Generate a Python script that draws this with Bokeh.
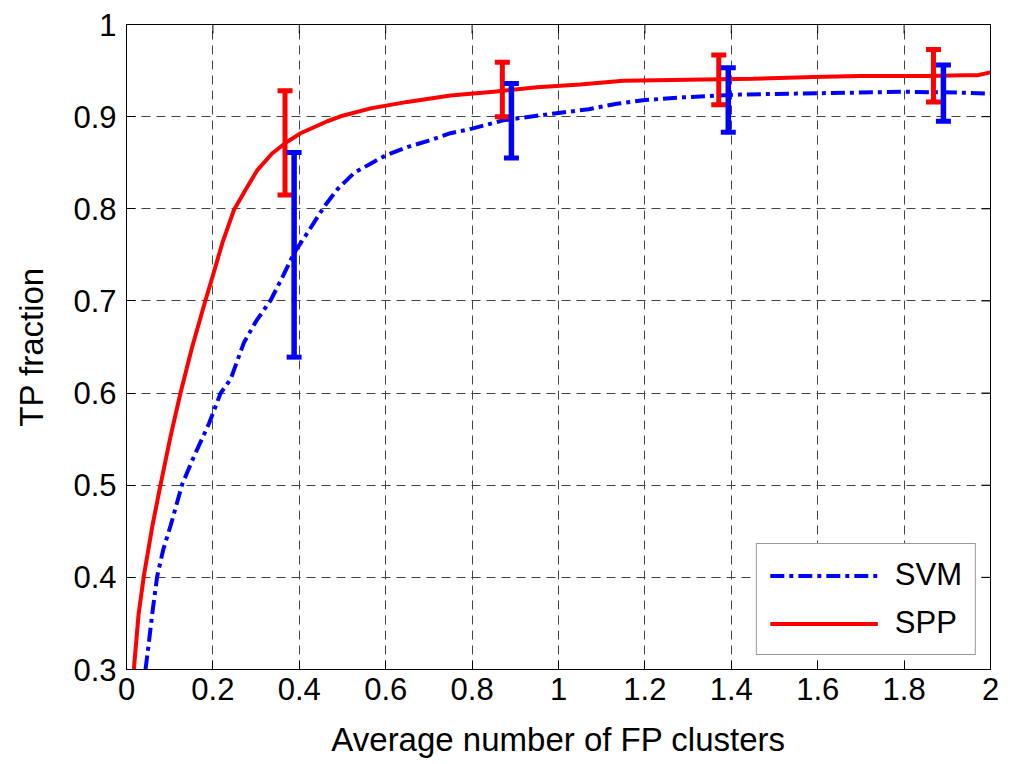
import math
from bokeh.plotting import figure
from bokeh.models import Range1d, FixedTicker, Legend, LegendItem
from bokeh.embed import file_html
from bokeh.resources import INLINE

# ---- data ----
spp_x = [0.017, 0.028, 0.040, 0.060, 0.079, 0.102, 0.125, 0.152, 0.183, 0.199, 0.222, 0.249,
         0.276, 0.303, 0.337, 0.37, 0.403, 0.465, 0.50, 0.565, 0.65, 0.75, 0.85, 0.95, 1.05,
         1.15, 1.30, 1.45, 1.59, 1.70, 1.85, 1.94, 1.97, 2.0]
spp_y = [0.30, 0.36, 0.401, 0.456, 0.501, 0.553, 0.60, 0.650, 0.701, 0.726, 0.763, 0.799,
         0.821, 0.842, 0.860, 0.872, 0.882, 0.895, 0.901, 0.909, 0.916, 0.923, 0.927, 0.932, 0.935,
         0.939, 0.940, 0.941, 0.943, 0.944, 0.944, 0.945, 0.945, 0.948]

svm_x = [0.044, 0.052, 0.060, 0.071, 0.085, 0.102, 0.129, 0.156, 0.191, 0.218, 0.241, 0.272,
         0.30, 0.334, 0.36, 0.388, 0.419, 0.457, 0.488, 0.527, 0.565, 0.60, 0.65, 0.70, 0.75,
         0.80, 0.872, 0.95, 1.0, 1.07, 1.135, 1.20, 1.29, 1.42, 1.55, 1.676, 1.80, 1.94, 2.0]
svm_y = [0.30, 0.33, 0.362, 0.401, 0.43, 0.456, 0.501, 0.531, 0.567, 0.600, 0.615, 0.655,
         0.678, 0.701, 0.725, 0.752, 0.774, 0.802, 0.821, 0.839, 0.849, 0.858, 0.867, 0.874, 0.882,
         0.887, 0.896, 0.901, 0.904, 0.908, 0.914, 0.918, 0.921, 0.924, 0.925, 0.926, 0.927, 0.926, 0.925]

spp_err_x = [0.367, 0.870, 1.371, 1.868]
spp_err_lo = [0.815, 0.900, 0.913, 0.916]
spp_err_hi = [0.928, 0.959, 0.967, 0.973]

svm_err_x = [0.388, 0.891, 1.393, 1.891]
svm_err_lo = [0.639, 0.855, 0.883, 0.895]
svm_err_hi = [0.861, 0.936, 0.953, 0.956]

x_ticks = [0, 0.2, 0.4, 0.6, 0.8, 1.0, 1.2, 1.4, 1.6, 1.8, 2.0]
x_tick_labels = ["0", "0.2", "0.4", "0.6", "0.8", "1", "1.2", "1.4", "1.6", "1.8", "2"]
y_ticks = [0.3, 0.4, 0.5, 0.6, 0.7, 0.8, 0.9, 1.0]
y_tick_labels = ["0.3", "0.4", "0.5", "0.6", "0.7", "0.8", "0.9", "1"]

X_MIN, X_MAX = 0.0, 2.0
Y_MIN, Y_MAX = 0.3, 1.0

FONT = "Liberation Sans"
FS = "31px"
FS_LABEL = "33px"

p = figure(width=1000, height=760, output_backend="svg", toolbar_location=None,
           x_range=Range1d(X_MIN, X_MAX), y_range=Range1d(Y_MIN, Y_MAX),
           min_border_left=126, min_border_right=10, min_border_top=24, min_border_bottom=90)
p.background_fill_color = "white"
p.border_fill_color = "white"
p.outline_line_color = "black"
p.outline_line_width = 1

# grid
for g, t in ((p.xgrid, x_ticks), (p.ygrid, y_ticks)):
    g.ticker = FixedTicker(ticks=t)
    g.grid_line_color = "#444444"
    g.grid_line_dash = "9 6"
    g.grid_line_width = 1

def style_axis(ax, ticks, labels):
    ax.ticker = FixedTicker(ticks=ticks)
    ax.major_label_overrides = {t: l for t, l in zip(ticks, labels)}
    ax.major_tick_in = 9
    ax.major_tick_out = 0
    ax.minor_tick_in = 0
    ax.minor_tick_out = 0
    ax.axis_line_color = "black"
    ax.major_tick_line_color = "black"
    ax.major_label_text_font = FONT
    ax.major_label_text_font_size = FS
    ax.major_label_text_color = "black"
    ax.axis_label_text_font = FONT
    ax.axis_label_text_font_size = FS_LABEL
    ax.axis_label_text_font_style = "normal"
    ax.axis_label_text_color = "black"

xa = p.xaxis[0]
ya = p.yaxis[0]
style_axis(xa, x_ticks, x_tick_labels)
style_axis(ya, y_ticks, y_tick_labels)
xa.axis_label = "Average number of FP clusters"
ya.axis_label = "TP fraction"
xa.major_label_standoff = 8
ya.major_label_standoff = 10
xa.axis_label_standoff = 18
ya.axis_label_standoff = 20

# inward tick marks on the top and right edges (box style), clipped to the frame
p.scatter(x=x_ticks, y=[Y_MAX] * len(x_ticks), marker="dash", angle=math.pi / 2, size=18,
          line_color="black", line_width=1)
p.scatter(x=[X_MAX] * len(y_ticks), y=y_ticks, marker="dash", size=18,
          line_color="black", line_width=1)

# curves
r_svm = p.line(svm_x, svm_y, line_color="#0000FF", line_width=4, line_dash="14 5 4 5")
r_spp = p.line(spp_x, spp_y, line_color="#FF0000", line_width=4)

# error bars
p.segment(x0=spp_err_x, y0=spp_err_lo, x1=spp_err_x, y1=spp_err_hi, line_color="#FF0000", line_width=5)
p.rect(x=spp_err_x + spp_err_x, y=spp_err_lo + spp_err_hi, width=15, height=5,
       width_units="screen", height_units="screen", fill_color="#FF0000", line_color=None)
p.segment(x0=svm_err_x, y0=svm_err_lo, x1=svm_err_x, y1=svm_err_hi, line_color="#0000FF", line_width=5.5)
p.rect(x=svm_err_x + svm_err_x, y=svm_err_lo + svm_err_hi, width=15, height=5,
       width_units="screen", height_units="screen", fill_color="#0000FF", line_color=None)

legend = Legend(items=[LegendItem(label="SVM", renderers=[r_svm]),
                       LegendItem(label="SPP", renderers=[r_spp])],
                location="bottom_right")
legend.margin = 14
legend.padding = 13
legend.spacing = 12
legend.glyph_width = 108
legend.glyph_height = 33
legend.label_height = 33
legend.label_standoff = 17
legend.label_text_font = FONT
legend.label_text_font_size = FS
legend.label_text_color = "black"
legend.border_line_color = "#333333"
legend.border_line_width = 1.5
legend.background_fill_color = "white"
legend.background_fill_alpha = 1.0
p.add_layout(legend, "center")

open("out.html", "w").write(file_html(p, INLINE))
